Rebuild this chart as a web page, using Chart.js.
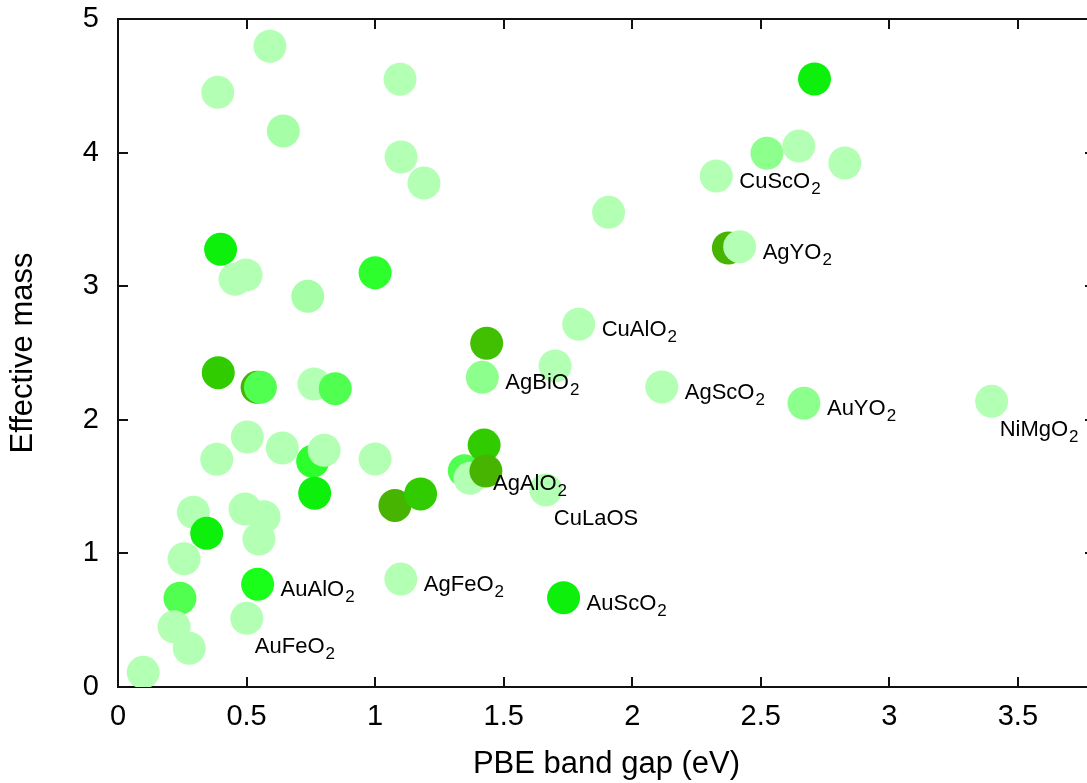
<!DOCTYPE html>
<html>
<head>
<meta charset="utf-8">
<script src="https://cdn.jsdelivr.net/npm/chart.js@4.4.0/dist/chart.umd.min.js"></script>
<style>
    html, body { margin: 0; padding: 0; background: #fff; overflow: hidden; }
    #wrap { width: 1095px; height: 783px; }
</style>
</head>
<body>
<div id="wrap"><canvas id="myChart" width="1095" height="783"></canvas></div>
<script>
// PBE band gap (eV) for each compound
const gap = [
    0.098, 0.241, 0.218, 0.277, 0.257, 0.293, 0.345, 0.384, 0.390, 0.399,
    0.388, 0.498, 0.455, 0.494, 0.568, 0.548, 0.503, 0.501, 0.543, 0.541,
    0.554, 0.591, 0.643, 0.639, 0.738, 0.757, 0.802, 0.762, 0.845, 0.765,
    1.000, 1.000, 1.077, 1.177, 1.097, 1.101, 1.190, 1.100, 1.347, 1.369,
    1.424, 1.431, 1.417, 1.434, 1.664, 1.700, 1.733, 1.792, 1.908, 2.115,
    2.327, 2.374, 2.418, 2.524, 2.648, 2.668, 2.709, 2.827, 3.398,
];
// effective mass
const mass = [
    0.110, 0.664, 0.451, 0.290, 0.960, 1.308, 1.150, 1.704, 2.353, 3.276,
    4.451, 3.084, 3.052, 1.332, 1.275, 1.108, 1.871, 0.514, 0.769, 2.243,
    2.243, 4.796, 4.162, 1.789, 2.924, 1.689, 1.772, 2.268, 2.233, 1.450,
    3.101, 1.707, 1.359, 1.445, 4.549, 3.967, 3.772, 0.808, 1.619, 1.562,
    1.811, 1.617, 2.318, 2.573, 1.475, 2.403, 0.668, 2.715, 3.553, 2.246,
    3.825, 3.286, 3.296, 3.995, 4.049, 2.124, 4.551, 3.922, 2.138,
];
// colour level of each marker (0 = palest ... 9 = darkest)
const shade = [
    0, 3, 0, 0, 0, 0, 6, 0, 7, 6,
    0, 0, 0, 0, 0, 0, 0, 0, 5, 9,
    3, 0, 1, 0, 1, 4, 0, 0, 3, 6,
    4, 0, 9, 7, 0, 0, 0, 0, 3, 0,
    7, 9, 2, 8, 0, 0, 6, 0, 0, 0,
    0, 9, 0, 2, 0, 2, 6, 0, 0,
];
// compound names written next to some markers
const names = [
    '', '', '', '', '', '', '', '', '', '',
    '', '', '', '', '', '', '', 'AuFeO2', 'AuAlO2', '',
    '', '', '', '', '', '', '', '', '', '',
    '', '', '', '', '', '', '', 'AgFeO2', '', 'AgAlO2',
    '', '', 'AgBiO2', '', 'CuLaOS', '', 'AuScO2', 'CuAlO2', '', 'AgScO2',
    'CuScO2', '', 'AgYO2', '', '', 'AuYO2', '', '', 'NiMgO2',
];

const palette = ['#b3ffb3', '#a6ffa6', '#8cff8c', '#50ff50', '#2cff2c',
    '#1aff1a', '#0cf00c', '#30cc00', '#40c000', '#46b400'];

const FONT = '"Liberation Sans", Arial, Helvetica, sans-serif';
// labels that sit under their marker instead of to the right
const below = new Set(['AuFeO2', 'CuLaOS', 'NiMgO2']);

const points = gap.map((g, i) => ({ x: g, y: mass[i] }));

// box round the plot with inward ticks on all four sides
const frame = {
    id: 'frame',
    beforeDatasetsDraw(chart) {
        const { ctx, chartArea: { left, right, top, bottom }, scales: { x, y } } = chart;
        ctx.save();
        ctx.strokeStyle = '#111';
        ctx.lineWidth = 2;
        ctx.beginPath();
        ctx.moveTo(left, top);
        ctx.lineTo(right, top);
        ctx.lineTo(right, bottom);
        ctx.lineTo(left, bottom);
        ctx.closePath();
        x.ticks.forEach((t) => {
            const px = Math.round(x.getPixelForValue(t.value));
            ctx.moveTo(px, bottom);
            ctx.lineTo(px, bottom - 10);
            ctx.moveTo(px, top);
            ctx.lineTo(px, top + 10);
        });
        y.ticks.forEach((t) => {
            const py = Math.round(y.getPixelForValue(t.value));
            ctx.moveTo(left, py);
            ctx.lineTo(left + 10, py);
            ctx.moveTo(right, py);
            ctx.lineTo(right - 10, py);
        });
        ctx.stroke();
        ctx.restore();
    },
};

// compound names, digits set as subscripts
const nameLabels = {
    id: 'nameLabels',
    afterDatasetsDraw(chart) {
        const { ctx, scales: { x, y } } = chart;
        ctx.save();
        ctx.fillStyle = '#000';
        ctx.textBaseline = 'alphabetic';
        ctx.textAlign = 'left';
        names.forEach((name, i) => {
            if (!name) return;
            const px = x.getPixelForValue(gap[i]);
            const py = y.getPixelForValue(mass[i]);
            const under = below.has(name);
            let tx = px + (under ? 8 : 23);
            const base = py + (under ? 35 : 12);
            name.match(/[A-Za-z]+|\d+/g).forEach((part) => {
                if (/\d/.test(part)) {
                    ctx.font = '17px ' + FONT;
                    ctx.fillText(part, tx + 1, base + 6);
                    tx += ctx.measureText(part).width + 1;
                } else {
                    ctx.font = '22px ' + FONT;
                    ctx.fillText(part, tx, base);
                    tx += ctx.measureText(part).width;
                }
            });
        });
        ctx.restore();
    },
};

const ctx = document.getElementById('myChart');

new Chart(ctx, {
    type: 'scatter',
    data: {
        datasets: [
            {
                data: points,
                backgroundColor: shade.map((s) => palette[s]),
                borderWidth: 0,
                pointRadius: 16.5,
                pointHoverRadius: 16.5,
                pointStyle: 'circle',
            },
        ],
    },
    options: {
        responsive: false,
        animation: false,
        layout: {
            autoPadding: false,
            padding: { top: 19, right: 0, bottom: 0, left: 0 },
        },
        plugins: {
            legend: { display: false },
            tooltip: { enabled: false },
        },
        scales: {
            x: {
                type: 'linear',
                min: 0,
                max: 3.8,
                grid: { display: false, drawTicks: false },
                border: { display: false },
                ticks: {
                    stepSize: 0.5,
                    includeBounds: false,
                    autoSkip: false,
                    maxRotation: 0,
                    padding: 13,
                    color: '#000',
                    font: { family: FONT, size: 29 },
                    callback: (v) => String(Number(v)),
                },
                title: {
                    display: true,
                    text: 'PBE band gap (eV)',
                    color: '#000',
                    font: { family: FONT, size: 31 },
                    padding: { top: 0, bottom: 0 },
                },
                afterFit: (scale) => {
                    scale.height = 96;
                    scale.paddingLeft = 0;
                    scale.paddingRight = 0;
                },
            },
            y: {
                min: 0,
                max: 5,
                grid: { display: false, drawTicks: false },
                border: { display: false },
                ticks: {
                    stepSize: 1,
                    padding: 19,
                    color: '#000',
                    font: { family: FONT, size: 29 },
                    callback: (v) => String(Number(v)),
                },
                title: {
                    display: true,
                    text: 'Effective mass',
                    color: '#000',
                    font: { family: FONT, size: 31 },
                    padding: { top: 5, bottom: 0 },
                },
                afterFit: (scale) => {
                    scale.width = 118;
                    scale.paddingTop = 0;
                    scale.paddingBottom = 0;
                },
            },
        },
    },
    plugins: [frame, nameLabels],
});
</script>
</body>
</html>
